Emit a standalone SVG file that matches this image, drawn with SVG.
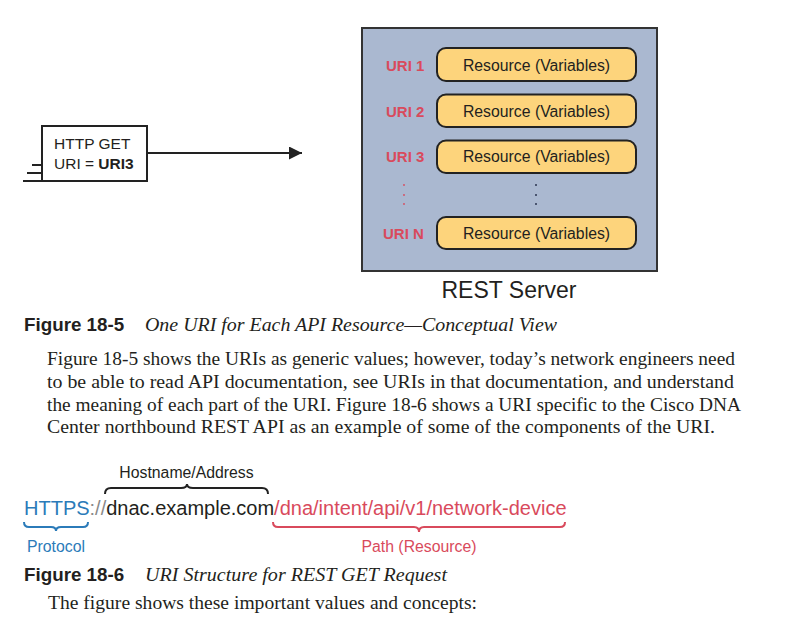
<svg xmlns="http://www.w3.org/2000/svg" width="792" height="628" viewBox="0 0 792 628">
<style>
.sans{font-family:"Liberation Sans",Arial,sans-serif}
.serif{font-family:"Liberation Serif","Times New Roman",serif}
.res{fill:#fdd47c;stroke:#222;stroke-width:2}
.rt{font-family:"Liberation Sans",Arial,sans-serif;font-size:15.8px;fill:#231f20;text-anchor:middle}
.uri{font-family:"Liberation Sans",Arial,sans-serif;font-size:15px;font-weight:bold;fill:#d94a5c}
.para{font-family:"Liberation Serif","Times New Roman",serif;font-size:18.5px;fill:#231f20}
.cap{font-family:"Liberation Sans",Arial,sans-serif;font-size:18.8px;font-weight:bold;fill:#231f20}
.capi{font-family:"Liberation Serif","Times New Roman",serif;font-size:19px;font-style:italic;fill:#231f20}
.brace{fill:none;stroke-width:2}
</style>
<defs>
<marker id="ah" markerWidth="13" markerHeight="13" viewBox="0 0 13 13" refX="13" refY="6.5" orient="auto" markerUnits="userSpaceOnUse">
<path d="M0,0 L13,6.5 L0,13 Z" fill="#222"/>
</marker>
</defs>
<rect width="792" height="628" fill="#fff"/>

<g id="rest-server">
<rect x="362" y="28" width="295" height="243" fill="#aab8d0" stroke="#333" stroke-width="2"/>
<text class="sans" x="509" y="298" font-size="23" text-anchor="middle" fill="#231f20">REST Server</text>
</g>

<g id="res1">
<rect class="res" x="437" y="48" width="199" height="33" rx="9"/>
<text class="uri" x="386" y="71">URI 1</text>
<text class="rt" x="536.5" y="71">Resource (Variables)</text>
</g>
<g id="res2">
<rect class="res" x="437" y="94.5" width="199" height="32.5" rx="9"/>
<text class="uri" x="386" y="117">URI 2</text>
<text class="rt" x="536.5" y="117">Resource (Variables)</text>
</g>
<g id="res3">
<rect class="res" x="437" y="140.5" width="199" height="32.5" rx="9"/>
<text class="uri" x="386" y="162">URI 3</text>
<text class="rt" x="536.5" y="162">Resource (Variables)</text>
</g>
<g id="dots">
<circle cx="404" cy="185" r="0.9" fill="#d94a5c"/>
<circle cx="404" cy="195" r="0.9" fill="#d94a5c"/>
<circle cx="404" cy="204" r="0.9" fill="#d94a5c"/>
<circle cx="536" cy="185" r="1" fill="#2a3550"/>
<circle cx="536" cy="195" r="1" fill="#2a3550"/>
<circle cx="536" cy="204" r="1" fill="#2a3550"/>
</g>
<g id="resN">
<rect class="res" x="437" y="217" width="199" height="32" rx="9"/>
<text class="uri" x="383" y="238.5">URI N</text>
<text class="rt" x="536.5" y="238.5">Resource (Variables)</text>
</g>

<g id="http-get">
<rect x="42" y="126" width="105" height="55" fill="#fff" stroke="#222" stroke-width="2"/>
<path d="M32,165 H42 M27,173 H42 M23,181 H42" stroke="#222" stroke-width="2" fill="none"/>
<text class="sans" x="54" y="149" font-size="15.5" fill="#231f20">HTTP GET</text>
<text class="sans" x="54" y="169" font-size="15.5" fill="#231f20">URI = <tspan font-weight="bold">URI3</tspan></text>
</g>

<g id="connectors">
<line x1="147" y1="153" x2="302" y2="153" stroke="#222" stroke-width="2" marker-end="url(#ah)"/>
</g>

<g id="caption-18-5">
<text class="cap" x="24" y="331">Figure 18-5</text>
<text class="capi" x="145" y="331" textLength="412" lengthAdjust="spacingAndGlyphs">One URI for Each API Resource—Conceptual View</text>
</g>

<g id="paragraph">
<text class="para" x="47" y="365" textLength="688" lengthAdjust="spacingAndGlyphs">Figure 18-5 shows the URIs as generic values; however, today’s network engineers need</text>
<text class="para" x="47" y="388" textLength="687" lengthAdjust="spacingAndGlyphs">to be able to read API documentation, see URIs in that documentation, and understand</text>
<text class="para" x="47" y="411" textLength="694" lengthAdjust="spacingAndGlyphs">the meaning of each part of the URI. Figure 18-6 shows a URI specific to the Cisco DNA</text>
<text class="para" x="47" y="433" textLength="668" lengthAdjust="spacingAndGlyphs">Center northbound REST API as an example of some of the components of the URI.</text>
</g>

<g id="uri-structure">
<text class="sans" x="186.5" y="478" font-size="15.8" text-anchor="middle" fill="#231f20">Hostname/Address</text>
<path class="brace" stroke="#222" d="M105,494 Q105,488 111,488 L181,488 Q187,488 187,484 Q187,488 193,488 L262,488 Q268,488 268,494"/>
<text class="sans" x="24" y="515" font-size="20"><tspan fill="#2b7bb9">HTTPS</tspan><tspan fill="#8a8a8a">://</tspan><tspan fill="#231f20">dnac.example.com</tspan><tspan fill="#d94a5c">/dna/intent/api/v1/network-device</tspan></text>
<path class="brace" stroke="#2b7bb9" d="M24,522 Q24,527 29,527 L51,527 Q56,527 56,531 Q56,527 61,527 L83,527 Q88,527 88,522"/>
<text class="sans" x="27" y="552" font-size="15.8" fill="#2b7bb9">Protocol</text>
<path class="brace" stroke="#d94a5c" d="M273,522 Q273,527 278,527 L414,527 Q419,527 419,532 Q419,527 424,527 L560,527 Q565,527 565,522"/>
<text class="sans" x="419" y="552" font-size="15.8" text-anchor="middle" fill="#d94a5c">Path (Resource)</text>
</g>

<g id="caption-18-6">
<text class="cap" x="24" y="581">Figure 18-6</text>
<text class="capi" x="145" y="581" textLength="302" lengthAdjust="spacingAndGlyphs">URI Structure for REST GET Request</text>
</g>
<text class="para" x="48" y="609" textLength="429" lengthAdjust="spacingAndGlyphs">The figure shows these important values and concepts:</text>
</svg>
